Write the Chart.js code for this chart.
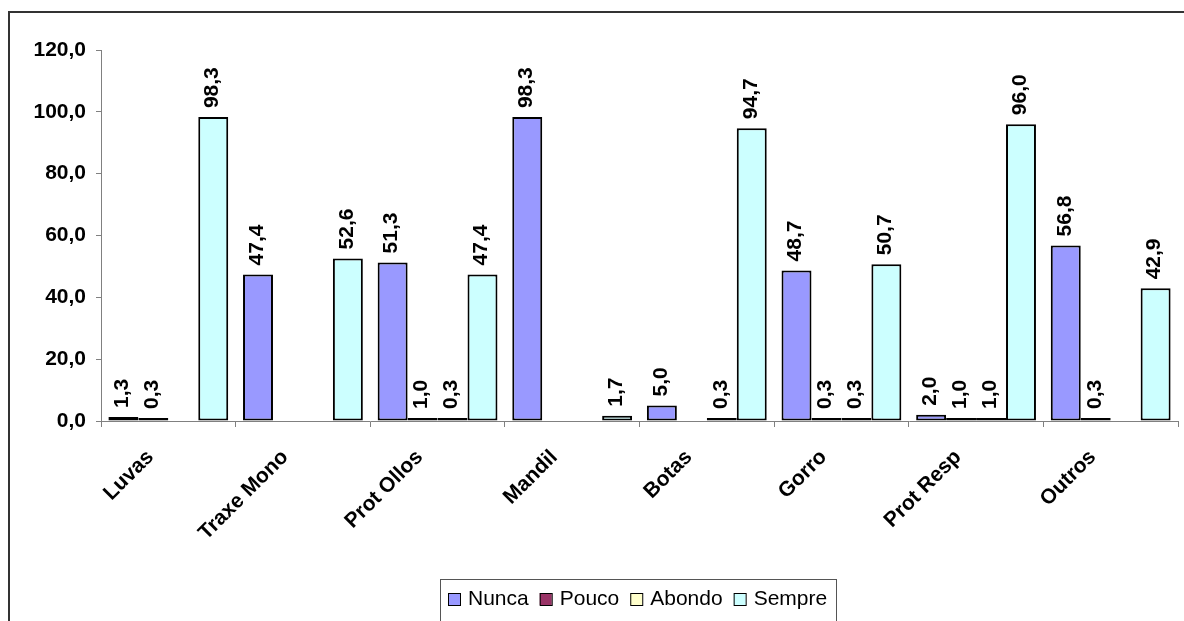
<!DOCTYPE html>
<html>
<head>
<meta charset="utf-8">
<script src="https://cdn.jsdelivr.net/npm/chart.js@4/dist/chart.umd.min.js"></script>
<style>
  html, body { margin: 0; padding: 0; background: #fff; }
  #wrap { width: 1184px; height: 621px; position: relative; }
</style>
</head>
<body>
<div id="wrap"><canvas id="myChart" width="1184" height="621"></canvas></div>
<script>
// Data
const categories = ['Luvas', 'Traxe Mono', 'Prot Ollos', 'Mandil', 'Botas', 'Gorro', 'Prot Resp', 'Outros'];
const seriesNames = ['Nunca', 'Pouco', 'Abondo', 'Sempre'];
const nunca  = [1.3, 47.4, 51.3, 98.3, 5.0, 48.7, 2.0, 56.8];
const pouco  = [0.3, null, 1.0, null, null, 0.3, 1.0, 0.3];
const abondo = [null, null, 0.3, null, 0.3, 0.3, 1.0, null];
const sempre = [98.3, 52.6, 47.4, 1.7, 94.7, 50.7, 96.0, 42.9];
const yTicks = [0, 20, 40, 60, 80, 100, 120];

const colors = ['#9999FF', '#993366', '#FFFFCC', '#CCFFFF'];
const FONT = '"Liberation Sans", Arial, sans-serif';

function fmt(v) {
    return v.toFixed(1).replace('.', ',');
}

const values = [nunca, pouco, abondo, sempre];
const datasets = values.map((vals, i) => ({
    label: seriesNames[i],
    data: vals,
    backgroundColor: colors[i],
    borderColor: '#000',
    borderWidth: 2,
    borderSkipped: false,
    minBarLength: 3,
    barPercentage: 1.0,
    categoryPercentage: 0.89
}));

// White background + outer chart frame
const framePlugin = {
    id: 'frame',
    beforeDraw: (chart) => {
        const { ctx } = chart;
        ctx.save();
        ctx.fillStyle = '#fff';
        ctx.fillRect(0, 0, chart.width, chart.height);
        ctx.strokeStyle = '#333';
        ctx.lineWidth = 2;
        ctx.strokeRect(9, 12, 1400, 800);
        ctx.restore();
    }
};

// Rotated value labels above each bar
const valueLabels = {
    id: 'valueLabels',
    afterDatasetsDraw: (chart) => {
        const { ctx } = chart;
        ctx.save();
        ctx.font = 'bold 21px ' + FONT;
        ctx.fillStyle = '#000';
        chart.data.datasets.forEach((ds, i) => {
            const meta = chart.getDatasetMeta(i);
            meta.data.forEach((bar, j) => {
                const v = ds.data[j];
                if (v === null || v === undefined) return;
                ctx.save();
                ctx.translate(bar.x - 1, bar.y - 9);
                ctx.rotate(-Math.PI / 2);
                ctx.textAlign = 'left';
                ctx.textBaseline = 'middle';
                ctx.fillText(fmt(v), 0, 0);
                ctx.restore();
            });
        });
        ctx.restore();
    }
};

// Framed legend under the plot
const boxLegend = {
    id: 'boxLegend',
    afterDraw: (chart) => {
        const { ctx } = chart;
        ctx.save();
        ctx.strokeStyle = '#555';
        ctx.lineWidth = 1;
        ctx.strokeRect(440.5, 579.5, 396, 60);
        ctx.font = '21px ' + FONT;
        ctx.textBaseline = 'middle';
        ctx.textAlign = 'left';
        let x = 448;
        const cy = 599;
        chart.data.datasets.forEach((ds) => {
            ctx.fillStyle = ds.backgroundColor;
            ctx.fillRect(x, cy - 6, 12, 12);
            ctx.strokeStyle = '#000';
            ctx.lineWidth = 1;
            ctx.strokeRect(x + 0.5, cy - 5.5, 12, 12);
            ctx.fillStyle = '#000';
            ctx.fillText(ds.label, x + 20, cy);
            x += 20 + ctx.measureText(ds.label).width + 11;
        });
        ctx.restore();
    }
};

const ctx = document.getElementById('myChart').getContext('2d');
const myChart = new Chart(ctx, {
    type: 'bar',
    data: { labels: categories, datasets: datasets },
    options: {
        responsive: false,
        animation: false,
        layout: { padding: { left: 0, top: 50, right: 6, bottom: 0 } },
        plugins: {
            legend: { display: false },
            tooltip: { enabled: false }
        },
        scales: {
            x: {
                afterFit: (scale) => { scale.height = 200; },
                grid: { drawOnChartArea: false, drawTicks: true, tickLength: 6, color: '#808080' },
                border: { color: '#808080', width: 1 },
                ticks: {
                    autoSkip: false,
                    minRotation: 45,
                    maxRotation: 45,
                    labelOffset: -18,
                    padding: 18,
                    color: '#000',
                    font: { family: FONT, size: 21, weight: 'bold' }
                }
            },
            y: {
                min: 0,
                max: 120,
                afterFit: (scale) => { scale.width = 101; },
                afterBuildTicks: (scale) => { scale.ticks = yTicks.map(v => ({ value: v })); },
                grid: { drawOnChartArea: false, drawTicks: true, tickLength: 5, color: '#808080' },
                border: { color: '#808080', width: 1 },
                ticks: {
                    padding: 10,
                    color: '#000',
                    font: { family: FONT, size: 21, weight: 'bold' },
                    callback: (v) => fmt(v)
                }
            }
        }
    },
    plugins: [framePlugin, valueLabels, boxLegend]
});
</script>
</body>
</html>
